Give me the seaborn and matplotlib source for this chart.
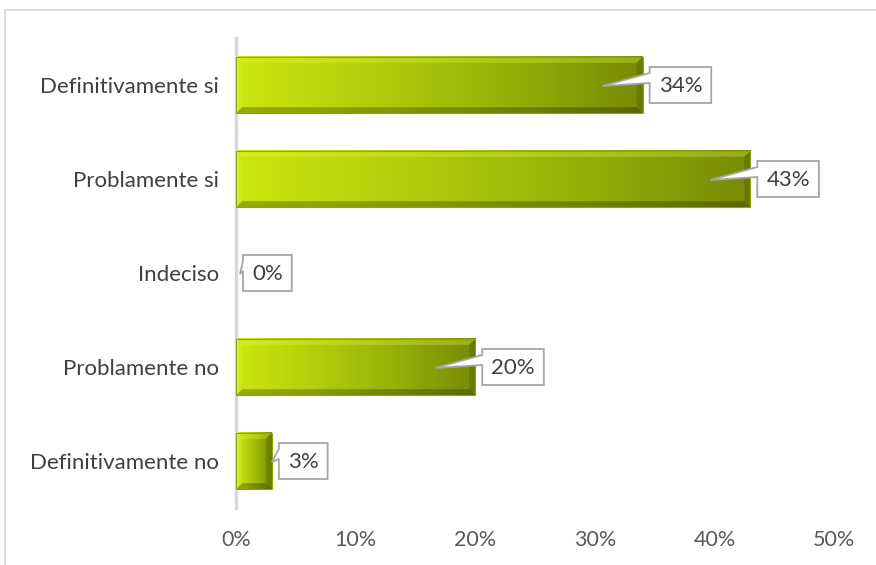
import numpy as np
import pandas as pd
import matplotlib
matplotlib.use("Agg")
import matplotlib.pyplot as plt
import seaborn as sns
from matplotlib.patches import Polygon, Rectangle
from matplotlib.colors import LinearSegmentedColormap
from matplotlib.ticker import FuncFormatter

categories = ["Definitivamente si", "Problamente si", "Indeciso",
              "Problamente no", "Definitivamente no"]
values = [34, 43, 0, 20, 3]
value_labels = ["34%", "43%", "0%", "20%", "3%"]
xticks = [0, 10, 20, 30, 40, 50]

sns.set_theme(style="white")
plt.rcParams["font.family"] = ["Lato", "DejaVu Sans"]

W, H = 876, 565
fig = plt.figure(figsize=(W / 100, H / 100), dpi=100)
ax = fig.add_axes([236 / W, 1 - 508 / H, (834 - 236) / W, (508 - 38) / H])

df = pd.DataFrame({"cat": categories, "val": values})
sns.barplot(data=df, y="cat", x="val", orient="h", color="#a8c40c",
            width=0.6, ax=ax, linewidth=0)

ax.set_xlim(0, 50)
ax.set_ylim(4.5, -0.5)
ax.set_xticks(xticks)
ax.xaxis.set_major_formatter(FuncFormatter(lambda v, p: f"{v:.0f}%"))
ax.set_xlabel("")
ax.set_ylabel("")
ax.tick_params(axis="x", length=0, pad=16, labelsize=15.5, labelcolor="#595959")
ax.tick_params(axis="y", length=0, pad=12, labelsize=16, labelcolor="#404040")
for s in ["top", "right", "bottom"]:
    ax.spines[s].set_visible(False)
ax.spines["left"].set_color("#d9d9d9")
ax.spines["left"].set_linewidth(2.5)
ax.spines["left"].set_zorder(5)

# gradient fill with bevel for every bar
cmap = LinearSegmentedColormap.from_list(
    "olive", ["#cce60e", "#b2ce0c", "#96b008", "#788b05"])
grad = np.linspace(0, 1, 256).reshape(1, -1)
fig.canvas.draw()
to_px = ax.transData
bev = 6
for patch, v in zip(ax.patches, values):
    if v <= 0:
        patch.set_visible(False)
        continue
    x0, y0 = patch.get_x(), patch.get_y()
    w, h = patch.get_width(), patch.get_height()
    patch.set_facecolor("none")
    ax.imshow(grad, aspect="auto", cmap=cmap, extent=(x0, x0 + w, y0 + h, y0),
              clip_path=patch, zorder=2, interpolation="bicubic")
    (px0, py_a), (px1, py_b) = to_px.transform([(x0, y0), (x0 + w, y0 + h)])
    top, bot = max(py_a, py_b), min(py_a, py_b)
    b = min(bev, (px1 - px0) / 3)
    shades = [
        ([(px0, top), (px1, top), (px1 - b, top - b), (px0 + b, top - b)], "#e8ff40", 0.30),
        ([(px0, bot), (px1, bot), (px1 - b, bot + b), (px0 + b, bot + b)], "black", 0.25),
        ([(px0, top), (px0 + b, top - b), (px0 + b, bot + b), (px0, bot)], "#e8ff40", 0.18),
        ([(px1, top), (px1 - b, top - b), (px1 - b, bot + b), (px1, bot)], "black", 0.12),
    ]
    for pts, c, a in shades:
        fig.add_artist(Polygon(pts, closed=True, transform=None, facecolor=c,
                               alpha=a, edgecolor="none", zorder=3))
    fig.add_artist(Rectangle((px0, bot), px1 - px0, top - bot, transform=None,
                             facecolor="none", edgecolor="#8fa40a", lw=0.8, zorder=3))

# callout labels
renderer = fig.canvas.get_renderer()
for i, (v, lab) in enumerate(zip(values, value_labels)):
    ex, cy = to_px.transform((v, i))
    x_start = to_px.transform((0, i))[0]
    tip_x = ex - 40 if ex - x_start > 80 else ex
    if v == 0:
        tip_x = ex + 4
    tip_y = cy - 1
    t = fig.text(0, 0, lab, fontsize=16, color="#404040", transform=None)
    bb = t.get_window_extent(renderer)
    bl = ex + 7
    bw = bb.width + 18
    btop, bbot = cy + 18, cy - 18
    pts = [(bl, btop), (bl + bw, btop), (bl + bw, bbot), (bl, bbot),
           (bl, btop - 16), (tip_x, tip_y), (bl, btop - 6)]
    fig.add_artist(Polygon(pts, closed=True, transform=None, facecolor="white",
                           edgecolor="#a6a6a6", lw=1.3, zorder=6))
    t.set_position((bl + bw / 2, cy - 1))
    t.set_ha("center")
    t.set_va("center")
    t.set_zorder(7)

# chart area frame
fig.add_artist(Rectangle((5 / W, -0.1), 1.2, 1 - 10 / H + 0.1,
                         transform=fig.transFigure, facecolor="none",
                         edgecolor="#d9d9d9", lw=1.3, zorder=0))

fig.savefig("out.png", dpi=100)
